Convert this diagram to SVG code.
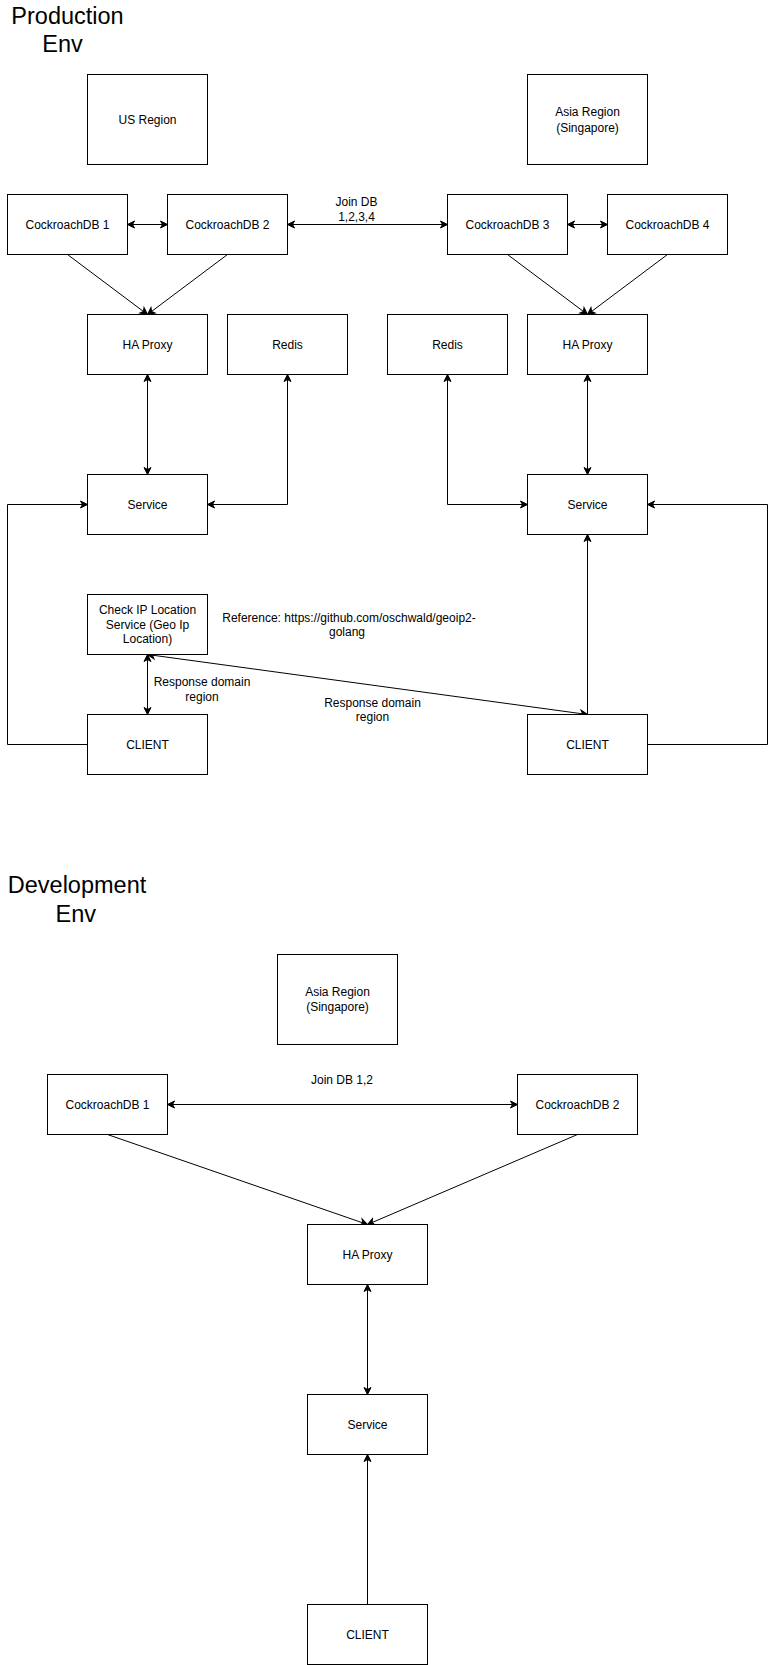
<svg xmlns="http://www.w3.org/2000/svg" width="776" height="1665" viewBox="0 0 776 1665">
<style>
.box{fill:#fff;stroke:#000;stroke-width:1}
.t{font-family:"Liberation Sans",Arial,sans-serif;font-size:12px;fill:#000;text-anchor:middle}
.title{font-family:"Liberation Sans",Arial,sans-serif;font-size:23.5px;fill:#000;text-anchor:middle}
.e{fill:none;stroke:#000;stroke-width:1}
.e1{marker-end:url(#arr)}
.e2{marker-start:url(#arr);marker-end:url(#arr)}
</style>
<defs>
<marker id="arr" markerUnits="userSpaceOnUse" viewBox="-8 -5 10 10" refX="0" refY="0" markerWidth="10" markerHeight="10" orient="auto-start-reverse">
<path d="M0,0 L-7,-3.5 L-5,0 L-7,3.5 Z" fill="#000" stroke="#000" stroke-width="1"/>
</marker>
</defs>
<rect width="776" height="1665" fill="#fff"/>

<g id="title-prod">
<text class="title" x="67.5" y="23.5">Production</text>
<text class="title" x="62.5" y="51.7">Env</text>
</g>
<g id="title-dev">
<text class="title" x="77" y="893.3">Development</text>
<text class="title" x="75.8" y="921.7">Env</text>
</g>

<g id="connectors">
<path class="e e2" d="M127.5,224.5 H167.5"/>
<path class="e e2" d="M287.5,224.5 H447.5"/>
<path class="e e2" d="M567.5,224.5 H607.5"/>
<path class="e e1" d="M67.5,254.5 L147.5,314.5"/>
<path class="e e1" d="M227.5,254.5 L147.5,314.5"/>
<path class="e e1" d="M507.5,254.5 L587.5,314.5"/>
<path class="e e1" d="M667.5,254.5 L587.5,314.5"/>
<path class="e e2" d="M147.5,374.5 V474.5"/>
<path class="e e2" d="M287.5,374.5 V504.5 H207.5"/>
<path class="e e2" d="M587.5,374.5 V474.5"/>
<path class="e e2" d="M447.5,374.5 V504.5 H527.5"/>
<path class="e e1" d="M87.5,744.5 H7.5 V504.5 H87.5"/>
<path class="e e1" d="M647.5,744.5 H767.5 V504.5 H647.5"/>
<path class="e e2" d="M147.5,654.5 V714.5"/>
<path class="e e2" d="M147.5,654.5 L587.5,714.5"/>
<path class="e e1" d="M587.5,714.5 V534.5"/>
<path class="e e2" d="M167.5,1104.5 H517.5"/>
<path class="e e1" d="M107.5,1134.5 L367.5,1224.5"/>
<path class="e e1" d="M577.5,1134.5 L367.5,1224.5"/>
<path class="e e2" d="M367.5,1284.5 V1394.5"/>
<path class="e e1" d="M367.5,1604.5 V1454.5"/>
<text class="t" x="356.5" y="206">Join DB</text>
<text class="t" x="356.5" y="221">1,2,3,4</text>
<text class="t" x="349" y="621.5">Reference: https://github.com/oschwald/geoip2-</text>
<text class="t" x="347" y="636">golang</text>
<text class="t" x="202" y="686">Response domain</text>
<text class="t" x="202" y="700.5">region</text>
<text class="t" x="372.5" y="706.5">Response domain</text>
<text class="t" x="372.5" y="721">region</text>
<text class="t" x="342" y="1084.3">Join DB 1,2</text>
</g>

<g id="us-region"><rect class="box" x="87.5" y="74.5" width="120" height="90"/><text class="t" x="147.5" y="123.5">US Region</text></g>
<g id="asia-region"><rect class="box" x="527.5" y="74.5" width="120" height="90"/><text class="t" x="587.5" y="116">Asia Region</text><text class="t" x="587.5" y="131.5">(Singapore)</text></g>
<g id="cdb1"><rect class="box" x="7.5" y="194.5" width="120" height="60"/><text class="t" x="67.5" y="228.5">CockroachDB 1</text></g>
<g id="cdb2"><rect class="box" x="167.5" y="194.5" width="120" height="60"/><text class="t" x="227.5" y="228.5">CockroachDB 2</text></g>
<g id="cdb3"><rect class="box" x="447.5" y="194.5" width="120" height="60"/><text class="t" x="507.5" y="228.5">CockroachDB 3</text></g>
<g id="cdb4"><rect class="box" x="607.5" y="194.5" width="120" height="60"/><text class="t" x="667.5" y="228.5">CockroachDB 4</text></g>
<g id="haproxy-us"><rect class="box" x="87.5" y="314.5" width="120" height="60"/><text class="t" x="147.5" y="348.5">HA Proxy</text></g>
<g id="redis-us"><rect class="box" x="227.5" y="314.5" width="120" height="60"/><text class="t" x="287.5" y="348.5">Redis</text></g>
<g id="redis-asia"><rect class="box" x="387.5" y="314.5" width="120" height="60"/><text class="t" x="447.5" y="348.5">Redis</text></g>
<g id="haproxy-asia"><rect class="box" x="527.5" y="314.5" width="120" height="60"/><text class="t" x="587.5" y="348.5">HA Proxy</text></g>
<g id="service-us"><rect class="box" x="87.5" y="474.5" width="120" height="60"/><text class="t" x="147.5" y="508.5">Service</text></g>
<g id="service-asia"><rect class="box" x="527.5" y="474.5" width="120" height="60"/><text class="t" x="587.5" y="508.5">Service</text></g>
<g id="check-ip"><rect class="box" x="87.5" y="594.5" width="120" height="60"/><text class="t" x="147.5" y="614.3">Check IP Location</text><text class="t" x="147.5" y="628.8">Service (Geo Ip</text><text class="t" x="147.5" y="643.3">Location)</text></g>
<g id="client-us"><rect class="box" x="87.5" y="714.5" width="120" height="60"/><text class="t" x="147.5" y="748.5">CLIENT</text></g>
<g id="client-asia"><rect class="box" x="527.5" y="714.5" width="120" height="60"/><text class="t" x="587.5" y="748.5">CLIENT</text></g>

<g id="dev-asia-region"><rect class="box" x="277.5" y="954.5" width="120" height="90"/><text class="t" x="337.5" y="996">Asia Region</text><text class="t" x="337.5" y="1011">(Singapore)</text></g>
<g id="dev-cdb1"><rect class="box" x="47.5" y="1074.5" width="120" height="60"/><text class="t" x="107.5" y="1108.5">CockroachDB 1</text></g>
<g id="dev-cdb2"><rect class="box" x="517.5" y="1074.5" width="120" height="60"/><text class="t" x="577.5" y="1108.5">CockroachDB 2</text></g>
<g id="dev-haproxy"><rect class="box" x="307.5" y="1224.5" width="120" height="60"/><text class="t" x="367.5" y="1258.5">HA Proxy</text></g>
<g id="dev-service"><rect class="box" x="307.5" y="1394.5" width="120" height="60"/><text class="t" x="367.5" y="1428.5">Service</text></g>
<g id="dev-client"><rect class="box" x="307.5" y="1604.5" width="120" height="60"/><text class="t" x="367.5" y="1638.5">CLIENT</text></g>
</svg>
